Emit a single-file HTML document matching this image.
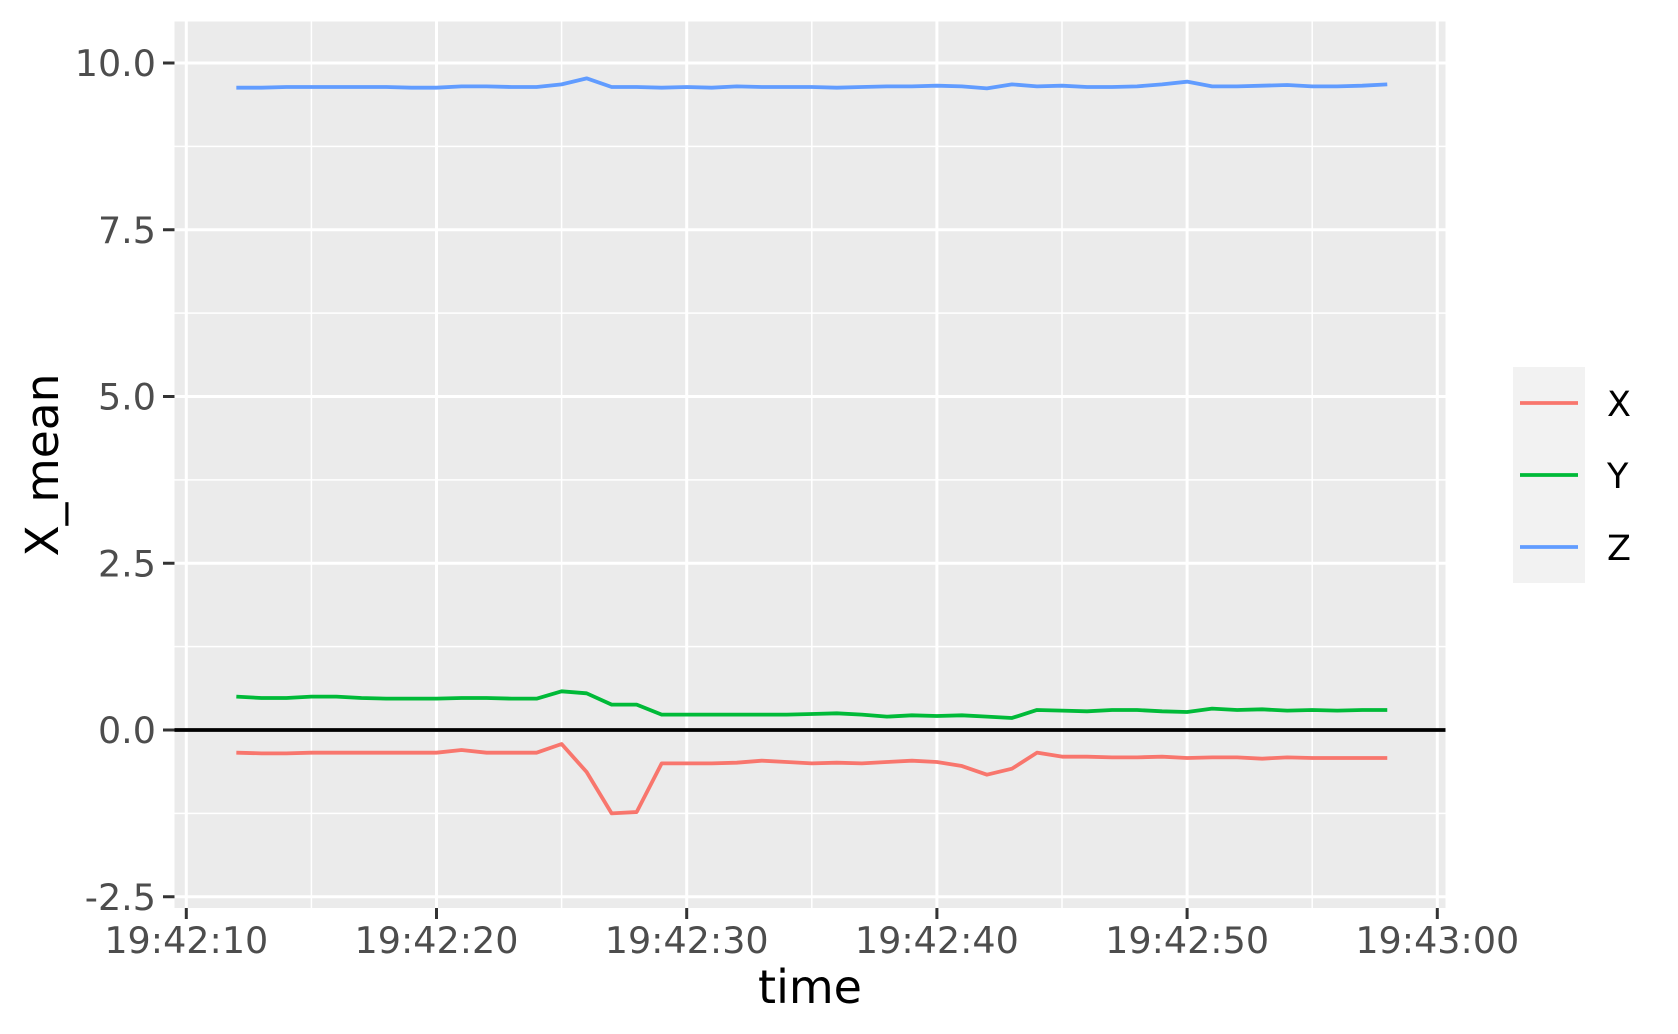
<!DOCTYPE html>
<html><head><meta charset="utf-8"><style>
html,body{margin:0;padding:0;background:#fff;}
svg{display:block;font-family:"DejaVu Sans","Liberation Sans",sans-serif;}
</style></head><body>
<svg id="chart" width="1678" height="1034">
<rect x="174.5" y="21.5" width="1271" height="886.5" fill="#EBEBEB"/>
<g id="grid"></g>
<g id="series"></g>
<g id="axes"></g>
<text x="810" y="1003" font-size="46" text-anchor="middle" fill="#000">time</text>
<text transform="translate(58,465) rotate(-90)" font-size="45.5" text-anchor="middle" fill="#000">X_mean</text>
<g>
<rect x="1513" y="367" width="72" height="216" fill="#F2F2F2"/>
<line x1="1520" x2="1578" y1="403" y2="403" stroke="#F8766D" stroke-width="3.8"/>
<line x1="1520" x2="1578" y1="475" y2="475" stroke="#00BA38" stroke-width="3.8"/>
<line x1="1520" x2="1578" y1="547" y2="547" stroke="#619CFF" stroke-width="3.8"/>
<text x="1607" y="416" font-size="35" fill="#000">X</text>
<text x="1607" y="488" font-size="35" fill="#000">Y</text>
<text x="1607" y="560" font-size="35" fill="#000">Z</text>
</g>
</svg>
<script>
const seconds = [12,13,14,15,16,17,18,19,20,21,22,23,24,25,26,27,28,29,30,31,32,33,34,35,36,37,38,39,40,41,42,43,44,45,46,47,48,49,50,51,52,53,54,55,56,57,58];
const xValues = [-0.34,-0.35,-0.35,-0.34,-0.34,-0.34,-0.34,-0.34,-0.34,-0.30,-0.34,-0.34,-0.34,-0.21,-0.63,-1.25,-1.23,-0.50,-0.50,-0.50,-0.49,-0.46,-0.48,-0.50,-0.49,-0.50,-0.48,-0.46,-0.48,-0.54,-0.67,-0.58,-0.34,-0.40,-0.40,-0.41,-0.41,-0.40,-0.42,-0.41,-0.41,-0.43,-0.41,-0.42,-0.42,-0.42,-0.42];
const yValues = [0.50,0.48,0.48,0.50,0.50,0.48,0.47,0.47,0.47,0.48,0.48,0.47,0.47,0.58,0.55,0.38,0.38,0.23,0.23,0.23,0.23,0.23,0.23,0.24,0.25,0.23,0.20,0.22,0.21,0.22,0.20,0.18,0.30,0.29,0.28,0.30,0.30,0.28,0.27,0.32,0.30,0.31,0.29,0.30,0.29,0.30,0.30];
const zValues = [9.63,9.63,9.64,9.64,9.64,9.64,9.64,9.63,9.63,9.65,9.65,9.64,9.64,9.68,9.77,9.64,9.64,9.63,9.64,9.63,9.65,9.64,9.64,9.64,9.63,9.64,9.65,9.65,9.66,9.65,9.62,9.68,9.65,9.66,9.64,9.64,9.65,9.68,9.72,9.65,9.65,9.66,9.67,9.65,9.65,9.66,9.68];
const yTicks = [-2.5,0,2.5,5,7.5,10];
const yTickLabels = ["-2.5","0.0","2.5","5.0","7.5","10.0"];
const yMinor = [-1.25,1.25,3.75,6.25,8.75];
const xTicks = [10,20,30,40,50,60];
const xTickLabels = ["19:42:10","19:42:20","19:42:30","19:42:40","19:42:50","19:43:00"];
const xMinor = [15,25,35,45,55];

const NS="http://www.w3.org/2000/svg";
function sx(s){return 186.3+(s-10)*25.02;}
function sy(v){return 730-v*66.7;}
function mk(tag,attrs,parent){const e=document.createElementNS(NS,tag);for(const k in attrs)e.setAttribute(k,attrs[k]);parent.appendChild(e);return e;}
const grid=document.getElementById('grid'),axes=document.getElementById('axes'),ser=document.getElementById('series');
yMinor.forEach(v=>{const l=mk('line',{x1:174.5,x2:1445.5,y1:sy(v),y2:sy(v),stroke:'#fff','stroke-width':1.5},grid);

});
xMinor.forEach(s=>{const l=mk('line',{x1:sx(s),x2:sx(s),y1:21.5,y2:908,stroke:'#fff','stroke-width':1.5},grid);

});
yTicks.forEach((v,i)=>{const l=mk('line',{x1:174.5,x2:1445.5,y1:sy(v),y2:sy(v),stroke:'#fff','stroke-width':3},grid);


const t=mk('line',{x1:163,x2:174.5,y1:sy(v),y2:sy(v),stroke:'#333','stroke-width':3},axes);


const tx=mk('text',{x:156,y:sy(v)+13,'font-size':36.5,'text-anchor':'end',fill:'#4D4D4D'},axes);tx.textContent=yTickLabels[i];

});
xTicks.forEach((s,i)=>{const l=mk('line',{x1:sx(s),x2:sx(s),y1:21.5,y2:908,stroke:'#fff','stroke-width':3},grid);


const t=mk('line',{x1:sx(s),x2:sx(s),y1:908,y2:919,stroke:'#333','stroke-width':3},axes);


const tx=mk('text',{x:sx(s),y:953,'font-size':36.5,'text-anchor':'middle',fill:'#4D4D4D'},axes);tx.textContent=xTickLabels[i];

});
const hz=mk('line',{x1:174.5,x2:1445.5,y1:sy(0),y2:sy(0),stroke:'#000','stroke-width':3.8},ser);


[[xValues,'#F8766D','series-x'],[yValues,'#00BA38','series-y'],[zValues,'#619CFF','series-z']].forEach(([vals,c,n])=>{
const p=mk('polyline',{points:seconds.map((s,i)=>sx(s)+','+sy(vals[i])).join(' '),fill:'none',stroke:c,'stroke-width':3.8,'stroke-linejoin':'round'},ser);

});
</script>
</body></html>
